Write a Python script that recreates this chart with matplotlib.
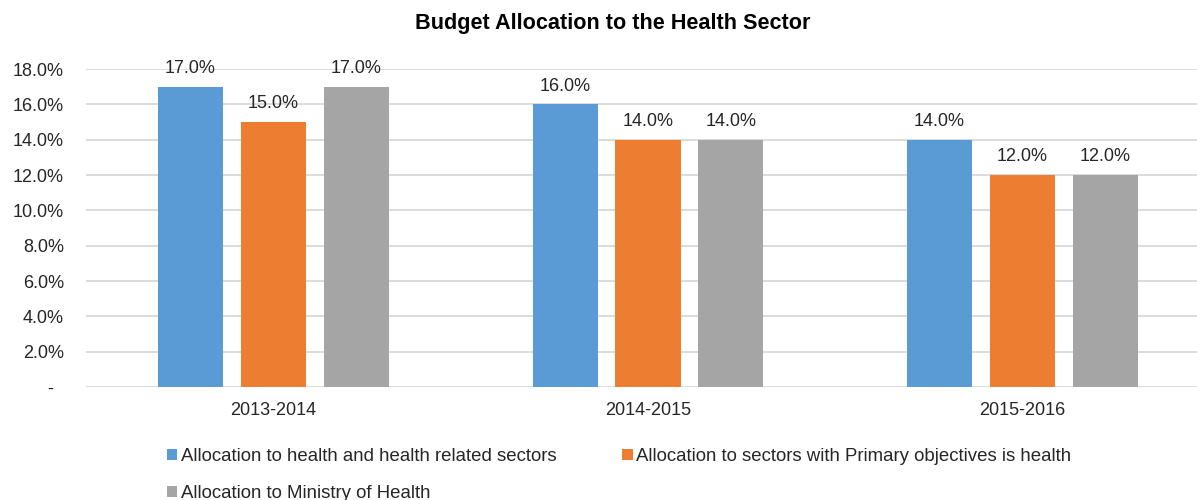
import numpy as np
import matplotlib.pyplot as plt
from matplotlib.ticker import FuncFormatter

plt.rcParams['font.family'] = ['Liberation Sans', 'DejaVu Sans']

# Budget shares (%) by fiscal year.
years = ['2013-2014', '2014-2015', '2015-2016']
health_related = [17.0, 16.0, 14.0]
primary_health = [15.0, 14.0, 12.0]
ministry = [17.0, 14.0, 12.0]

series = [
    ('Allocation to health and health related sectors', health_related, '#5B9BD5'),
    ('Allocation to sectors with Primary objectives is health', primary_health, '#ED7D31'),
    ('Allocation to Ministry of Health', ministry, '#A5A5A5'),
]

fig = plt.figure(figsize=(11.97, 5.0), dpi=100)
# plot area runs past the right edge of the figure
ax = fig.add_axes([86.25 / 1197, 113 / 500, 1123.5 / 1197, 318 / 500])

x = np.arange(len(years))
width = 0.1736
step = 0.2216

bars = []
for k, (label, vals, color) in enumerate(series):
    b = ax.bar(x + (k - 1) * step, vals, width, color=color, label=label, zorder=3)
    bars.append(b)
    for rect, v in zip(b, vals):
        ax.text(rect.get_x() + rect.get_width() / 2, v + 0.55, '%.1f%%' % v,
                ha='center', va='bottom', fontsize=13, color='#262626',
                clip_on=False)

ax.set_xlim(-0.5, 2.5)
ax.set_ylim(0, 18)
ax.set_yticks(np.arange(0, 19, 2))
ax.yaxis.set_major_formatter(FuncFormatter(lambda v, p: '-  ' if v == 0 else '%.1f%%' % v))
ax.set_xticks(x)
ax.set_xticklabels(years)
ax.tick_params(axis='both', length=0, labelsize=13, labelcolor='#262626')
ax.tick_params(axis='y', pad=16)
ax.tick_params(axis='x', pad=11)

ax.grid(axis='y', color='#D9D9D9', linewidth=1.3, zorder=0)
for s in ax.spines.values():
    s.set_visible(False)

fig.text(613 / 1197, 1 - 29 / 500, 'Budget Allocation to the Health Sector',
         ha='center', va='baseline', fontsize=15.6, fontweight='bold', color='black')

# legend fills row by row: blue, orange / gray
order = [0, 2, 1]
fig.legend(handles=[bars[i] for i in order], loc='upper left',
           bbox_to_anchor=(167 / 1197, 1 - 448 / 500),
           ncol=2, frameon=False, fontsize=13.4, handlelength=0.54, handleheight=0.54,
           handletextpad=0.2, columnspacing=3.55, labelspacing=1.07, borderpad=0,
           borderaxespad=0, labelcolor='#262626')

plt.savefig('out.png', dpi=100)
